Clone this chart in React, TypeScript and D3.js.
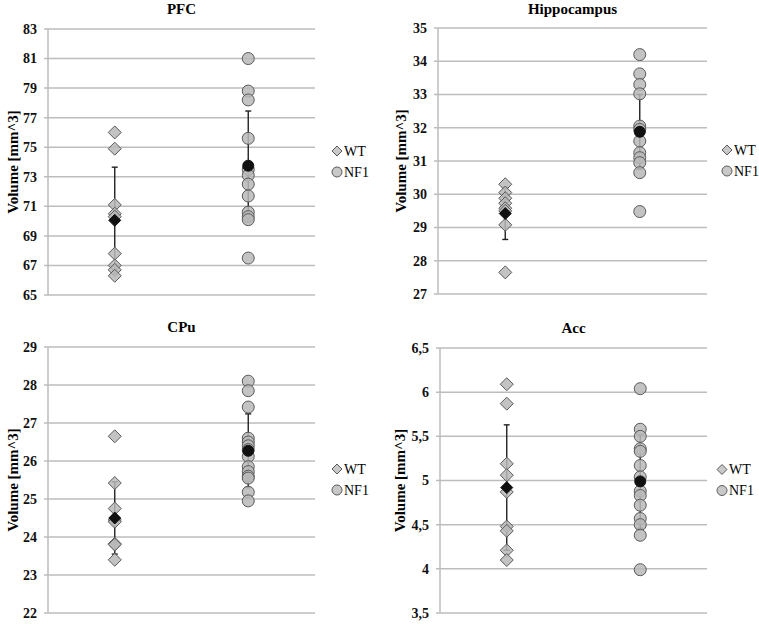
import React from "react";
import * as d3 from "d3";

const titles = ["PFC", "Hippocampus", "CPu", "Acc"];
const groups = ["WT", "NF1"];
const yDomains: [number, number][] = [[65, 83], [27, 35], [22, 29], [3.5, 6.5]];
const yTickSteps = [2, 1, 1, 0.5];

const wtValues: number[][] = [
  [76.0, 74.9, 71.1, 70.5, 70.3, 67.8, 67.0, 66.7, 66.3],
  [30.3, 30.05, 29.88, 29.73, 29.58, 29.5, 29.08, 27.65],
  [26.65, 25.42, 24.75, 24.45, 24.4, 23.82, 23.8, 23.4],
  [6.09, 5.87, 5.19, 5.06, 4.87, 4.48, 4.43, 4.21, 4.1],
];
const nf1Values: number[][] = [
  [81.0, 78.8, 78.2, 75.6, 73.5, 73.1, 72.5, 71.7, 70.6, 70.3, 70.1, 67.5],
  [34.2, 33.62, 33.3, 33.02, 32.05, 31.95, 31.6, 31.25, 31.1, 30.95, 30.65, 29.48],
  [28.1, 27.85, 27.42, 26.6, 26.5, 26.4, 26.3, 26.12, 25.85, 25.72, 25.6, 25.55, 25.18, 24.95],
  [6.04, 5.58, 5.5, 5.36, 5.33, 5.17, 5.04, 4.88, 4.83, 4.72, 4.57, 4.5, 4.38, 3.99],
];
const wtMeans = [70.05, 29.42, 24.5, 4.92];
const wtSDs = [3.6, 0.78, 0.95, 0.71];
const nf1Means = [73.75, 31.88, 26.27, 4.99];
const nf1SDs = [3.7, 1.12, 0.97, 0.53];

// layout (not data)
const layouts = [
  { left: 48, right: 315, top: 29, bottom: 295, titleY: 14, labelX: 13, legX: 337 },
  { left: 438, right: 707, top: 28, bottom: 294, titleY: 14, labelX: 401, legX: 727 },
  { left: 48, right: 315, top: 347, bottom: 613, titleY: 332, labelX: 13, legX: 337 },
  { left: 440, right: 707, top: 348, bottom: 613, titleY: 333, labelX: 400, legX: 722 },
];

const FONT = "'Liberation Serif', 'Times New Roman', serif";
const GRID = "#bdbdbd";
const PT_FILL = "#b8b8b8";
const PT_STROKE = "#5a5a5a";

const diamond = (cx: number, cy: number, r: number) =>
  `M${cx},${cy - r}L${cx + r},${cy}L${cx},${cy + r}L${cx - r},${cy}Z`;

const fmt = (v: number) => (Number.isInteger(v) ? String(v) : String(v).replace(".", ","));

function Panel({ i }: { i: number }) {
  const L = layouts[i];
  const y = d3.scaleLinear().domain(yDomains[i]).range([L.bottom, L.top]);
  const x = d3.scaleBand<string>().domain(groups).range([L.left, L.right]).padding(0);
  const cx = (g: string) => (x(g) as number) + x.bandwidth() / 2;
  const ticks = d3.range(yDomains[i][0], yDomains[i][1] + 1e-9, yTickSteps[i]);
  const legY = (L.top + L.bottom) / 2;
  const wx = cx("WT");
  const nx = cx("NF1");
  const errBar = (xc: number, m: number, sd: number) => (
    <g stroke="#222" strokeWidth={1.4}>
      <line x1={xc} x2={xc} y1={y(m + sd)} y2={y(m - sd)} />
      <line x1={xc - 3} x2={xc + 3} y1={y(m + sd)} y2={y(m + sd)} />
      <line x1={xc - 3} x2={xc + 3} y1={y(m - sd)} y2={y(m - sd)} />
    </g>
  );
  return (
    <g>
      <text x={(L.left + L.right) / 2} y={L.titleY} textAnchor="middle" fontFamily={FONT} fontWeight="bold" fontSize={15}>
        {titles[i]}
      </text>
      {ticks.map((t) => (
        <g key={t}>
          <line x1={L.left - 4} x2={L.right} y1={y(t)} y2={y(t)} stroke={GRID} strokeWidth={1.5} />
          <text x={L.left - 11} y={y(t)} dy="0.35em" textAnchor="end" fontFamily={FONT} fontWeight="bold" fontSize={14} fill="#111">
            {fmt(t)}
          </text>
        </g>
      ))}
      <line x1={L.left} x2={L.left} y1={L.top} y2={L.bottom} stroke={GRID} strokeWidth={1.5} />
      <text
        transform={`translate(${L.labelX},${(L.top + L.bottom) / 2}) rotate(-90)`}
        dy="0.35em"
        textAnchor="middle"
        fontFamily={FONT}
        fontWeight="bold"
        fontSize={15}
      >
        Volume [mm^3]
      </text>
      {errBar(wx, wtMeans[i], wtSDs[i])}
      {errBar(nx, nf1Means[i], nf1SDs[i])}
      {wtValues[i].map((v, k) => (
        <path key={"w" + k} d={diamond(wx, y(v), 6.5)} fill={PT_FILL} fillOpacity={0.85} stroke={PT_STROKE} strokeWidth={1} />
      ))}
      {nf1Values[i].map((v, k) => (
        <circle key={"n" + k} cx={nx} cy={y(v)} r={6} fill={PT_FILL} fillOpacity={0.85} stroke={PT_STROKE} strokeWidth={1} />
      ))}
      <path d={diamond(wx, y(wtMeans[i]), 6)} fill="#111" stroke="#111" />
      <circle cx={nx} cy={y(nf1Means[i])} r={5.5} fill="#111" stroke="#111" />
      {/* legend */}
      <path d={diamond(L.legX, legY - 11, 5)} fill="#c8c8c8" stroke={PT_STROKE} strokeWidth={1} />
      <text x={L.legX + 7} y={legY - 11} dy="0.35em" fontFamily={FONT} fontSize={14}>WT</text>
      <circle cx={L.legX} cy={legY + 10} r={5} fill="#c8c8c8" stroke={PT_STROKE} strokeWidth={1} />
      <text x={L.legX + 7} y={legY + 10} dy="0.35em" fontFamily={FONT} fontSize={14}>NF1</text>
    </g>
  );
}

export default function App() {
  return (
    <svg width={759} height={624} style={{ position: "absolute", left: 0, top: 0, background: "#fff" }}>
      <rect width={759} height={624} fill="#fff" />
      {titles.map((_, i) => (
        <Panel key={i} i={i} />
      ))}
    </svg>
  );
}
